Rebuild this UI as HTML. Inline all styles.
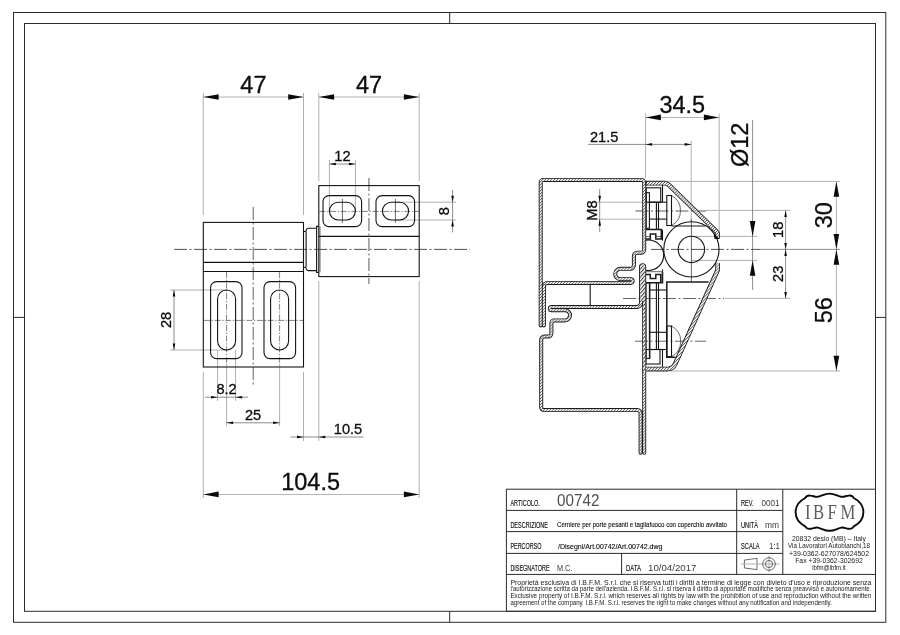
<!DOCTYPE html>
<html><head><meta charset="utf-8"><title>Art.00742</title>
<style>
html,body{margin:0;padding:0;background:#fff;}
body{width:900px;height:635px;overflow:hidden;font-family:"Liberation Sans",sans-serif;}
svg{display:block;will-change:transform;opacity:.999;}
text{font-family:"Liberation Sans",sans-serif;}
.o{stroke:#141414;stroke-width:1.1;fill:none;}
.o2{stroke:#1c1c1c;stroke-width:1.5;fill:none;}
.ot{stroke:#2a2a2a;stroke-width:.7;fill:none;}
.e{stroke:#b0b0b0;stroke-width:1;fill:none;}
.dl{stroke:#b4b4b4;stroke-width:1.05;fill:none;}
.d{stroke:#707070;stroke-width:.8;fill:none;}
.c{stroke:#333;stroke-width:.85;fill:none;stroke-dasharray:13 2.5 2 2.5;}
.cs{stroke:#2e2e2e;stroke-width:.6;fill:none;stroke-dasharray:6 1.6 1.4 1.6;}
.c2{stroke:#666;stroke-width:1;fill:none;stroke-dasharray:13 2.5 2 2.5;}
.cg{stroke:#909090;stroke-width:1.45;fill:none;stroke-dasharray:13 2.5 2 2.5;}
.f{stroke:#2b2b2b;stroke-width:1;fill:none;}
.a{fill:#0a0a0a;stroke:none;}
.t{fill:#0d0d0d;stroke:#0d0d0d;stroke-width:.3;}
.tb{fill:#0c0c0c;stroke:#0c0c0c;stroke-width:.12;}
.tl{fill:#3a3a3a;}
.tp{fill:#1a1a1a;}
.tl2{fill:#505050;}
.ser{font-family:"Liberation Serif",serif;fill:#5c5c5c;}
</style></head><body>
<svg width="900" height="635" viewBox="0 0 900 635">
<defs>
<pattern id="h" patternUnits="userSpaceOnUse" width="2.1" height="2.1" patternTransform="rotate(45)">
<rect width="2.1" height="2.1" fill="#fff"/><rect width="0.8" height="2.1" fill="#606060"/>
</pattern>
<pattern id="h3" patternUnits="userSpaceOnUse" width="2.1" height="2.1" patternTransform="rotate(45)">
<rect width="2.1" height="2.1" fill="#fff"/><rect width="0.8" height="2.1" fill="#5a5a5a"/>
</pattern>
<pattern id="h2" patternUnits="userSpaceOnUse" width="2.6" height="2.6" patternTransform="rotate(40)">
<rect width="2.6" height="2.6" fill="#fff"/><rect width="1.0" height="2.6" fill="#333"/>
</pattern>
</defs>
<rect x="0" y="0" width="900" height="635" fill="#fff"/>

<rect class="f" x="13.50" y="12.50" width="872.30" height="609.80"/>
<rect class="f" x="24.50" y="23.50" width="851.00" height="587.80"/>
<line class="f" x1="449.70" y1="12.50" x2="449.70" y2="23.50"/>
<line class="f" x1="449.70" y1="611.30" x2="449.70" y2="622.30"/>
<line class="f" x1="13.50" y1="317.40" x2="24.50" y2="317.40"/>
<line class="f" x1="875.50" y1="317.40" x2="885.80" y2="317.40"/>
<g id="leftview">
<line class="e" x1="203.30" y1="93.00" x2="203.30" y2="215.00"/>
<line class="e" x1="303.50" y1="93.00" x2="303.50" y2="215.00"/>
<line class="e" x1="318.80" y1="93.00" x2="318.80" y2="181.00"/>
<line class="e" x1="419.20" y1="93.00" x2="419.20" y2="181.00"/>
<line class="e" x1="203.30" y1="372.00" x2="203.30" y2="498.00"/>
<line class="e" x1="419.20" y1="281.00" x2="419.20" y2="498.00"/>
<line class="e" x1="303.50" y1="372.00" x2="303.50" y2="441.00"/>
<line class="e" x1="318.80" y1="281.00" x2="318.80" y2="441.00"/>
<line class="e" x1="217.60" y1="350.00" x2="217.60" y2="401.00"/>
<line class="e" x1="235.60" y1="350.00" x2="235.60" y2="401.00"/>
<line class="e" x1="226.60" y1="368.00" x2="226.60" y2="426.00"/>
<line class="e" x1="279.60" y1="368.00" x2="279.60" y2="426.00"/>
<line class="e" x1="170.00" y1="290.00" x2="227.00" y2="290.00"/>
<line class="e" x1="170.00" y1="350.00" x2="227.00" y2="350.00"/>
<line class="e" x1="329.40" y1="160.00" x2="329.40" y2="211.00"/>
<line class="e" x1="355.40" y1="160.00" x2="355.40" y2="211.00"/>
<line class="e" x1="396.00" y1="202.20" x2="456.00" y2="202.20"/>
<line class="e" x1="396.00" y1="220.00" x2="456.00" y2="220.00"/>
<line class="dl" x1="203.30" y1="97.00" x2="303.50" y2="97.00"/>
<polygon class="a" points="203.30,97.00 218.60,94.20 218.60,99.80"/>
<polygon class="a" points="303.50,97.00 288.20,94.20 288.20,99.80"/>
<line class="dl" x1="318.80" y1="97.00" x2="419.20" y2="97.00"/>
<polygon class="a" points="318.80,97.00 334.10,94.20 334.10,99.80"/>
<polygon class="a" points="419.20,97.00 403.90,94.20 403.90,99.80"/>
<text class="t" x="253.40" y="93.40" font-size="23.5" text-anchor="middle">47</text>
<text class="t" x="369.00" y="93.40" font-size="23.5" text-anchor="middle">47</text>
<line class="dl" x1="203.30" y1="494.40" x2="419.20" y2="494.40"/>
<polygon class="a" points="203.30,494.40 218.60,491.60 218.60,497.20"/>
<polygon class="a" points="419.20,494.40 403.90,491.60 403.90,497.20"/>
<text class="t" x="310.60" y="490.40" font-size="23.5" text-anchor="middle">104.5</text>
<line class="d" x1="329.40" y1="164.00" x2="355.40" y2="164.00"/>
<polygon class="a" points="329.40,164.00 335.90,162.70 335.90,165.30"/>
<polygon class="a" points="355.40,164.00 348.90,162.70 348.90,165.30"/>
<text class="t" x="342.40" y="160.80" font-size="14.6" text-anchor="middle">12</text>
<line class="d" x1="452.60" y1="190.00" x2="452.60" y2="232.40"/>
<polygon class="a" points="452.60,202.20 451.30,195.70 453.90,195.70"/>
<polygon class="a" points="452.60,220.00 451.30,226.50 453.90,226.50"/>
<text class="t" x="448.60" y="211.10" font-size="14.6" text-anchor="middle" transform="rotate(-90 448.60 211.10)">8</text>
<line class="d" x1="174.00" y1="290.00" x2="174.00" y2="350.00"/>
<polygon class="a" points="174.00,290.00 172.70,296.50 175.30,296.50"/>
<polygon class="a" points="174.00,350.00 172.70,343.50 175.30,343.50"/>
<text class="t" x="171.20" y="320.00" font-size="14.6" text-anchor="middle" transform="rotate(-90 171.20 320.00)">28</text>
<line class="d" x1="205.00" y1="397.20" x2="248.00" y2="397.20"/>
<polygon class="a" points="217.60,397.20 211.10,395.90 211.10,398.50"/>
<polygon class="a" points="235.60,397.20 242.10,395.90 242.10,398.50"/>
<text class="t" x="226.60" y="394.40" font-size="14.6" text-anchor="middle">8.2</text>
<line class="d" x1="226.60" y1="422.80" x2="279.60" y2="422.80"/>
<polygon class="a" points="226.60,422.80 233.10,421.50 233.10,424.10"/>
<polygon class="a" points="279.60,422.80 273.10,421.50 273.10,424.10"/>
<text class="t" x="253.10" y="419.80" font-size="14.6" text-anchor="middle">25</text>
<line class="d" x1="290.40" y1="437.00" x2="363.60" y2="437.00"/>
<polygon class="a" points="303.50,437.00 297.00,435.70 297.00,438.30"/>
<polygon class="a" points="318.80,437.00 325.30,435.70 325.30,438.30"/>
<text class="t" x="333.80" y="434.40" font-size="14.6" text-anchor="start">10.5</text>
<line class="c" x1="174.00" y1="249.40" x2="470.00" y2="249.40"/>
<line class="cg" x1="253.30" y1="207.00" x2="253.30" y2="385.00"/>
<line class="cg" x1="368.90" y1="178.00" x2="368.90" y2="284.00"/>
<line class="cs" x1="204.00" y1="320.40" x2="303.00" y2="320.40"/>
<line class="cs" x1="226.60" y1="272.00" x2="226.60" y2="368.00"/>
<line class="cs" x1="279.60" y1="272.00" x2="279.60" y2="368.00"/>
<line class="cs" x1="319.50" y1="211.40" x2="419.00" y2="211.40"/>
<line class="ot" x1="342.40" y1="199.00" x2="342.40" y2="223.00"/>
<line class="ot" x1="395.40" y1="199.00" x2="395.40" y2="223.00"/>
<rect class="o" x="203.30" y="222.40" width="100.20" height="144.60"/>
<line class="o" x1="203.30" y1="262.40" x2="303.50" y2="262.40"/>
<line class="o" x1="203.30" y1="271.50" x2="303.50" y2="271.50"/>
<rect class="o" x="318.80" y="185.60" width="100.40" height="91.00"/>
<line class="o" x1="318.80" y1="236.40" x2="419.20" y2="236.40"/>
<line class="ot" x1="320.00" y1="226.40" x2="320.00" y2="272.40"/>
<path class="o" d="M303.5,231.5 L305.2,231.5 Q306.2,231.3 306.4,229.6 Q306.8,228.2 308.2,228.2 L316.6,228.2 L316.6,226.4 L318.8,226.4"/>
<path class="o" d="M303.5,267.3 L305.2,267.3 Q306.2,267.5 306.4,269.2 Q306.8,270.6 308.2,270.6 L316.6,270.6 L316.6,272.4 L318.8,272.4"/>
<line class="o" x1="306.10" y1="231.50" x2="306.10" y2="267.30"/>
<line class="o" x1="316.60" y1="228.20" x2="316.60" y2="270.60"/>
<rect class="o" x="323.00" y="195.60" width="38.60" height="31.00" rx="6" ry="6"/>
<rect class="o" x="376.00" y="195.60" width="38.60" height="31.00" rx="6" ry="6"/>
<rect class="o" x="329.40" y="202.20" width="26.00" height="17.80" rx="8.9" ry="8.9"/>
<rect class="o" x="382.40" y="202.20" width="26.20" height="17.80" rx="8.9" ry="8.9"/>
<rect class="o" x="210.60" y="281.60" width="31.40" height="77.00" rx="6" ry="6"/>
<rect class="o" x="264.00" y="281.60" width="31.60" height="77.00" rx="6" ry="6"/>
<rect class="o" x="217.60" y="290.00" width="18.00" height="60.00" rx="9" ry="9"/>
<rect class="o" x="270.60" y="290.00" width="18.00" height="60.00" rx="9" ry="9"/>
</g>
<g id="rightview">
<line class="e" x1="645.60" y1="113.60" x2="645.60" y2="178.00"/>
<line class="e" x1="719.20" y1="113.60" x2="719.20" y2="237.00"/>
<line class="e" x1="691.20" y1="141.00" x2="691.20" y2="222.00"/>
<line class="e" x1="664.00" y1="181.40" x2="840.00" y2="181.40"/>
<line class="e" x1="706.00" y1="210.40" x2="790.00" y2="210.40"/>
<line class="e" x1="725.00" y1="298.40" x2="790.00" y2="298.40"/>
<line class="e" x1="670.00" y1="371.00" x2="840.00" y2="371.00"/>
<line class="e" x1="691.00" y1="236.40" x2="757.00" y2="236.40"/>
<line class="e" x1="691.00" y1="260.40" x2="757.00" y2="260.40"/>
<line class="e" x1="597.00" y1="202.20" x2="647.00" y2="202.20"/>
<line class="e" x1="597.00" y1="219.20" x2="647.00" y2="219.20"/>
<line class="dl" x1="645.60" y1="117.40" x2="719.20" y2="117.40"/>
<polygon class="a" points="645.60,117.40 660.90,114.60 660.90,120.20"/>
<polygon class="a" points="719.20,117.40 703.90,114.60 703.90,120.20"/>
<text class="t" x="682.30" y="113.20" font-size="23.5" text-anchor="middle">34.5</text>
<line class="d" x1="588.00" y1="144.40" x2="691.20" y2="144.40"/>
<polygon class="a" points="645.60,144.40 652.10,143.10 652.10,145.70"/>
<polygon class="a" points="691.20,144.40 684.70,143.10 684.70,145.70"/>
<text class="t" x="590.00" y="141.60" font-size="14.6" text-anchor="start">21.5</text>
<line class="d" x1="752.60" y1="120.00" x2="752.60" y2="290.00"/>
<polygon class="a" points="752.60,236.40 749.80,221.10 755.40,221.10"/>
<polygon class="a" points="752.60,260.40 749.80,275.70 755.40,275.70"/>
<text class="t" x="747.60" y="144.80" font-size="23.5" text-anchor="middle" transform="rotate(-90 747.60 144.80)">Ø12</text>
<line class="d" x1="785.60" y1="210.40" x2="785.60" y2="298.40"/>
<polygon class="a" points="785.60,210.40 784.30,216.90 786.90,216.90"/>
<polygon class="a" points="785.60,249.40 784.30,242.90 786.90,242.90"/>
<polygon class="a" points="785.60,249.40 784.30,255.90 786.90,255.90"/>
<polygon class="a" points="785.60,298.40 784.30,291.90 786.90,291.90"/>
<text class="t" x="783.00" y="229.80" font-size="14.6" text-anchor="middle" transform="rotate(-90 783.00 229.80)">18</text>
<text class="t" x="783.00" y="273.80" font-size="14.6" text-anchor="middle" transform="rotate(-90 783.00 273.80)">23</text>
<line class="dl" x1="836.40" y1="181.40" x2="836.40" y2="371.00"/>
<polygon class="a" points="836.40,181.40 833.60,196.70 839.20,196.70"/>
<polygon class="a" points="836.40,249.40 833.60,234.10 839.20,234.10"/>
<polygon class="a" points="836.40,249.40 833.60,264.70 839.20,264.70"/>
<polygon class="a" points="836.40,371.00 833.60,355.70 839.20,355.70"/>
<text class="t" x="832.00" y="215.20" font-size="23.5" text-anchor="middle" transform="rotate(-90 832.00 215.20)">30</text>
<text class="t" x="832.00" y="310.20" font-size="23.5" text-anchor="middle" transform="rotate(-90 832.00 310.20)">56</text>
<line class="d" x1="599.70" y1="189.00" x2="599.70" y2="232.00"/>
<polygon class="a" points="599.70,202.20 598.40,195.70 601.00,195.70"/>
<polygon class="a" points="599.70,219.20 598.40,225.70 601.00,225.70"/>
<text class="t" x="596.60" y="210.60" font-size="14.6" text-anchor="middle" transform="rotate(-90 596.60 210.60)">M8</text>
<line class="c" x1="651.00" y1="249.40" x2="760.00" y2="249.40"/>
<line class="d" x1="760.00" y1="249.40" x2="840.00" y2="249.40"/>
<line class="ot" x1="691.40" y1="219.00" x2="691.40" y2="281.50"/>
<line class="cg" x1="635.50" y1="210.90" x2="706.00" y2="210.90"/>
<line class="c2" x1="623.00" y1="298.50" x2="724.00" y2="298.50"/>
<line class="c2" x1="635.00" y1="341.20" x2="706.00" y2="341.20"/>
<circle class="o" cx="691.4" cy="249.4" r="27.6"/>
<circle class="o" cx="691.4" cy="249.4" r="13.2"/>
<rect class="o" x="646.20" y="187.80" width="14.50" height="14.40"/>
<line class="o" x1="662.50" y1="185.00" x2="662.50" y2="202.20"/>
<rect class="o" x="646.20" y="192.70" width="3.20" height="35.60"/>
<line class="o" x1="649.40" y1="202.20" x2="666.80" y2="202.20"/>
<line class="o" x1="649.40" y1="219.10" x2="666.80" y2="219.10"/>
<line class="o" x1="656.40" y1="202.20" x2="656.40" y2="229.60"/>
<line class="o" x1="658.50" y1="202.20" x2="658.50" y2="229.60"/>
<rect class="o" x="666.80" y="195.50" width="4.70" height="30.00"/>
<path class="ot" d="M671.5,195.5 A17,17 0 0 1 671.5,225.5"/>
<line class="o" x1="671.50" y1="226.00" x2="705.50" y2="226.00"/>
<path class="o2" d="M646,229.6 L661.3,229.6 L661.3,239 L655.8,239 L655.8,234 L650.3,234 L650.3,239 L646,239"/>
<path class="ot" d="M646,236.5 L650.3,236.5 M655.8,236.5 L661.3,236.5"/>
<line class="o" x1="662.50" y1="229.60" x2="662.50" y2="240.50"/>
<path class="o" d="M646,240.2 A15.2,15.2 0 1 1 646,270.2"/>
<path class="o2" d="M646,282.7 L662.5,282.7 L662.5,271.7 M646,274.4 L650.3,274.4 L650.3,278.4 L655.8,278.4 L655.8,274.4 L660.7,274.4 L660.7,282.7"/>
<line class="o" x1="662.50" y1="269.50" x2="662.50" y2="271.70"/>
<line class="ot" x1="646.00" y1="271.70" x2="662.50" y2="271.70"/>
<rect class="o" x="646.00" y="282.70" width="3.60" height="75.80"/>
<line class="o2" x1="649.60" y1="282.70" x2="649.60" y2="358.50"/>
<line class="o" x1="656.40" y1="282.70" x2="656.40" y2="349.50"/>
<line class="o" x1="658.50" y1="282.70" x2="658.50" y2="349.50"/>
<line class="o" x1="649.60" y1="290.00" x2="666.80" y2="290.00"/>
<line class="o" x1="649.60" y1="332.30" x2="666.80" y2="332.30"/>
<line class="o" x1="649.60" y1="349.50" x2="666.80" y2="349.50"/>
<path class="o2" d="M708.6,281.9 L666.8,281.9 L666.8,357.3 L675.5,357.3"/>
<rect class="o" x="666.80" y="326.00" width="4.70" height="30.70"/>
<path class="ot" d="M671.5,326 A17.4,17.4 0 0 1 671.5,356.7"/>
<rect class="o" x="646.00" y="349.50" width="14.00" height="14.50"/>
<line class="o" x1="662.50" y1="349.50" x2="662.50" y2="367.10"/>
<line class="o" x1="590.20" y1="284.50" x2="590.20" y2="305.50"/>
<path d="M540.70,325.40 L540.70,182.50 A2.60,2.60 0 0 1 543.30,179.90 L641.60,179.90 A2.60,2.60 0 0 1 644.20,182.50 L644.20,249.50 A3.20,3.20 0 0 1 641.00,252.70 L637.10,252.70 A3.20,3.20 0 0 0 633.90,255.90 L633.90,265.20 A3.60,3.60 0 0 1 630.30,268.80 L620.40,268.80 A5.20,5.20 0 0 0 615.20,274.00 L615.20,274.00 A5.20,5.20 0 0 0 620.40,279.20 L630.85,279.20 A1.85,1.85 0 0 1 632.70,281.05 L632.70,281.05 A1.85,1.85 0 0 1 630.85,282.90 L547.50,282.90 A3.60,3.60 0 0 0 543.90,286.50 L543.90,325.40" fill="none" stroke="#1c1c1c" stroke-width="4.0" stroke-linecap="round" stroke-linejoin="round"/>
<path d="M540.70,325.40 L540.70,182.50 A2.60,2.60 0 0 1 543.30,179.90 L641.60,179.90 A2.60,2.60 0 0 1 644.20,182.50 L644.20,249.50 A3.20,3.20 0 0 1 641.00,252.70 L637.10,252.70 A3.20,3.20 0 0 0 633.90,255.90 L633.90,265.20 A3.60,3.60 0 0 1 630.30,268.80 L620.40,268.80 A5.20,5.20 0 0 0 615.20,274.00 L615.20,274.00 A5.20,5.20 0 0 0 620.40,279.20 L630.85,279.20 A1.85,1.85 0 0 1 632.70,281.05 L632.70,281.05 A1.85,1.85 0 0 1 630.85,282.90 L547.50,282.90 A3.60,3.60 0 0 0 543.90,286.50 L543.90,325.40" fill="none" stroke="url(#h)" stroke-width="2.2" stroke-linecap="round" stroke-linejoin="round"/>
<path d="M644.20,452.80 L644.20,266.80 A1.60,1.60 0 0 0 642.60,265.20 L642.60,265.20 A1.60,1.60 0 0 0 641.00,266.80 L641.00,302.80 A4.20,4.20 0 0 1 636.80,307.00 L551.40,307.00 A1.60,1.60 0 0 0 549.80,308.60 L549.80,308.60 A1.60,1.60 0 0 0 551.40,310.20 L564.90,310.20 A5.10,5.10 0 0 1 570.00,315.30 L570.00,315.30 A5.10,5.10 0 0 1 564.90,320.40 L554.20,320.40 A2.80,2.80 0 0 0 551.40,323.20 L551.40,333.30 A3.20,3.20 0 0 1 548.20,336.50 L544.40,336.50 A3.20,3.20 0 0 0 541.20,339.70 L541.20,407.30 A2.80,2.80 0 0 0 544.00,410.10 L637.40,410.10 A3.20,3.20 0 0 1 640.60,413.30 L640.60,452.80" fill="none" stroke="#1c1c1c" stroke-width="4.0" stroke-linecap="round" stroke-linejoin="round"/>
<path d="M644.20,452.80 L644.20,266.80 A1.60,1.60 0 0 0 642.60,265.20 L642.60,265.20 A1.60,1.60 0 0 0 641.00,266.80 L641.00,302.80 A4.20,4.20 0 0 1 636.80,307.00 L551.40,307.00 A1.60,1.60 0 0 0 549.80,308.60 L549.80,308.60 A1.60,1.60 0 0 0 551.40,310.20 L564.90,310.20 A5.10,5.10 0 0 1 570.00,315.30 L570.00,315.30 A5.10,5.10 0 0 1 564.90,320.40 L554.20,320.40 A2.80,2.80 0 0 0 551.40,323.20 L551.40,333.30 A3.20,3.20 0 0 1 548.20,336.50 L544.40,336.50 A3.20,3.20 0 0 0 541.20,339.70 L541.20,407.30 A2.80,2.80 0 0 0 544.00,410.10 L637.40,410.10 A3.20,3.20 0 0 1 640.60,413.30 L640.60,452.80" fill="none" stroke="url(#h)" stroke-width="2.2" stroke-linecap="round" stroke-linejoin="round"/>
<path d="M642.6,266.5 L642.6,301" fill="none" stroke="url(#h2)" stroke-width="4.6"/>
<path d="M644.2,301 L644.2,372" fill="none" stroke="url(#h2)" stroke-width="2.0"/>
<path d="M646.00,183.20 L664.15,183.20 A7.00,7.00 0 0 1 669.04,185.19 L716.39,231.42 A4.00,4.00 0 0 1 717.60,234.29 L717.60,238.40" fill="none" stroke="#1c1c1c" stroke-width="4.7" stroke-linecap="butt" stroke-linejoin="round"/>
<path d="M646.00,183.20 L664.15,183.20 A7.00,7.00 0 0 1 669.04,185.19 L716.39,231.42 A4.00,4.00 0 0 1 717.60,234.29 L717.60,238.40" fill="none" stroke="url(#h3)" stroke-width="3.0" stroke-linecap="butt" stroke-linejoin="round"/>
<line class="o" x1="646.00" y1="181.00" x2="646.00" y2="185.40"/>
<path class="a" d="M713.6,233.6 L719.6,239 L714.6,239 Z"/>
<path d="M717.60,263.00 L717.60,269.55 A3.00,3.00 0 0 1 717.33,270.79 L675.29,363.81 A9.00,9.00 0 0 1 667.09,369.10 L646.00,369.10" fill="none" stroke="#1c1c1c" stroke-width="4.7" stroke-linecap="butt" stroke-linejoin="round"/>
<path d="M717.60,263.00 L717.60,269.55 A3.00,3.00 0 0 1 717.33,270.79 L675.29,363.81 A9.00,9.00 0 0 1 667.09,369.10 L646.00,369.10" fill="none" stroke="url(#h3)" stroke-width="3.0" stroke-linecap="butt" stroke-linejoin="round"/>
</g>
<g id="title">
<rect class="f" x="506.40" y="489.20" width="369.10" height="122.10"/>
<line class="f" x1="506.40" y1="510.40" x2="782.80" y2="510.40"/>
<line class="f" x1="506.40" y1="531.60" x2="782.80" y2="531.60"/>
<line class="f" x1="506.40" y1="553.40" x2="782.80" y2="553.40"/>
<line class="f" x1="506.40" y1="574.40" x2="875.50" y2="574.40"/>
<line class="f" x1="736.70" y1="489.20" x2="736.70" y2="574.40"/>
<line class="f" x1="782.80" y1="489.20" x2="782.80" y2="574.40"/>
<line class="f" x1="621.60" y1="553.40" x2="621.60" y2="574.40"/>
<text class="tb" x="510.40" y="506.00" font-size="8.2" text-anchor="start" textLength="29.4" lengthAdjust="spacingAndGlyphs">ARTICOLO.</text>
<text class="tl2" x="557.00" y="506.20" font-size="16.6" text-anchor="start" textLength="42.4" lengthAdjust="spacingAndGlyphs">00742</text>
<text class="tb" x="510.40" y="527.60" font-size="8.2" text-anchor="start" textLength="37.6" lengthAdjust="spacingAndGlyphs">DESCRIZIONE</text>
<text class="tb" x="557.00" y="527.40" font-size="7.9" text-anchor="start" textLength="170.0" lengthAdjust="spacingAndGlyphs">Cerniere per porte pesanti e tagliafuoco con coperchio avvitato</text>
<text class="tb" x="510.40" y="549.00" font-size="8.2" text-anchor="start" textLength="31.2" lengthAdjust="spacingAndGlyphs">PERCORSO</text>
<text class="tb" x="558.00" y="549.20" font-size="7.4" text-anchor="start" textLength="104.4" lengthAdjust="spacingAndGlyphs">/Disegni/Art.00742/Art.00742.dwg</text>
<text class="tb" x="510.40" y="570.60" font-size="8.2" text-anchor="start" textLength="39.2" lengthAdjust="spacingAndGlyphs">DISEGNATORE</text>
<text class="tl" x="557.00" y="570.60" font-size="9" text-anchor="start" textLength="15.4" lengthAdjust="spacingAndGlyphs">M.C.</text>
<text class="tb" x="626.00" y="570.60" font-size="8.2" text-anchor="start" textLength="15.0" lengthAdjust="spacingAndGlyphs">DATA</text>
<text class="tl" x="648.00" y="570.60" font-size="9.4" text-anchor="start" textLength="48.4" lengthAdjust="spacingAndGlyphs">10/04/2017</text>
<text class="tb" x="741.00" y="506.00" font-size="8.2" text-anchor="start" textLength="12.6" lengthAdjust="spacingAndGlyphs">REV.</text>
<text class="tl" x="761.60" y="506.00" font-size="9.2" text-anchor="start" textLength="18.0" lengthAdjust="spacingAndGlyphs">0001</text>
<text class="tb" x="741.00" y="527.60" font-size="8.2" text-anchor="start" textLength="17.0" lengthAdjust="spacingAndGlyphs">UNITÀ</text>
<text class="tl" x="765.00" y="527.60" font-size="9.2" text-anchor="start" textLength="14.0" lengthAdjust="spacingAndGlyphs">mm</text>
<text class="tb" x="741.00" y="549.00" font-size="8.2" text-anchor="start" textLength="18.6" lengthAdjust="spacingAndGlyphs">SCALA</text>
<text class="tl" x="769.00" y="549.00" font-size="9.2" text-anchor="start" textLength="11.0" lengthAdjust="spacingAndGlyphs">1:1</text>
<path class="ot" d="M744.4,560 L757,558.4 L757,569.6 L744.4,568 Z"/>
<line class="e" x1="741.00" y1="564.00" x2="779.50" y2="564.00"/>
<line class="e" x1="769.00" y1="555.60" x2="769.00" y2="572.40"/>
<circle class="ot" cx="769" cy="564" r="6.3"/>
<circle class="ot" cx="769" cy="564" r="3.6"/>
<text class="tp" x="510.40" y="584.60" font-size="6.7" text-anchor="start" textLength="361.0" lengthAdjust="spacingAndGlyphs">Proprietà esclusiva di I.B.F.M. S.r.l. che si riserva tutti i diritti a termine di legge con divieto d'uso e riproduzione senza</text>
<text class="tp" x="510.40" y="591.30" font-size="6.7" text-anchor="start" textLength="361.0" lengthAdjust="spacingAndGlyphs">l'autorizzazione scritta da parte dell'azienda. I.B.F.M. S.r.l. si riserva il diritto di apportare modifiche senza preavviso e autonomamente.</text>
<text class="tp" x="510.40" y="598.00" font-size="6.7" text-anchor="start" textLength="361.0" lengthAdjust="spacingAndGlyphs">Exclusive property of I.B.F.M. S.r.l. which reserves all rights by law with the prohibition of use and reproduction without the written</text>
<text class="tp" x="510.40" y="604.70" font-size="6.7" text-anchor="start" textLength="321.5" lengthAdjust="spacingAndGlyphs">agreement of the company. I.B.F.M. S.r.l. reserves the right to make changes without any notification and independently.</text>
<path d="M795.6,512.2 C795.6,505.6 800.4,500.6 805.2,498.0 C806.2,496.2 808.2,495.2 810.6,495.6 C813.4,496.0 815.4,497.2 817.6,496.8 C821.6,496.0 824.6,493.6 829.5,493.6 C834.4,493.6 837.4,496.0 841.4,496.8 C843.6,497.2 845.6,496.0 848.4,495.6 C850.8,495.2 852.8,496.2 853.8,498.0 C858.6,500.6 863.4,505.6 863.4,512.2 C863.4,518.8 858.6,523.8 853.8,526.4 C852.8,528.2 850.8,529.2 848.4,528.8 C845.6,528.4 843.6,527.2 841.4,527.6 C837.4,528.4 834.4,530.8 829.5,530.8 C824.6,530.8 821.6,528.4 817.6,527.6 C815.4,527.2 813.4,528.4 810.6,528.8 C808.2,529.2 806.2,528.2 805.2,526.4 C800.4,523.8 795.6,518.8 795.6,512.2 Z" fill="none" stroke="#0a0a0a" stroke-width="1.9" stroke-linejoin="round"/>
<text class="ser" font-size="21.4" text-anchor="middle" transform="translate(807.8,518.5) scale(0.78,1)">I</text>
<text class="ser" font-size="21.4" text-anchor="middle" transform="translate(818.6,518.5) scale(0.78,1)">B</text>
<text class="ser" font-size="21.4" text-anchor="middle" transform="translate(832.2,518.5) scale(0.78,1)">F</text>
<text class="ser" font-size="21.4" text-anchor="middle" transform="translate(848.0,518.5) scale(0.78,1)">M</text>
<text class="tp" x="829.00" y="540.50" font-size="6.9" text-anchor="middle" textLength="74.0" lengthAdjust="spacingAndGlyphs">20832 desio (MB) – Italy</text>
<text class="tp" x="829.00" y="548.00" font-size="6.9" text-anchor="middle" textLength="82.0" lengthAdjust="spacingAndGlyphs">Via Lavoratori Autobianchi,18</text>
<text class="tp" x="829.00" y="555.50" font-size="6.9" text-anchor="middle" textLength="80.0" lengthAdjust="spacingAndGlyphs">+39-0362-627078/624502</text>
<text class="tp" x="829.00" y="562.70" font-size="6.9" text-anchor="middle" textLength="67.6" lengthAdjust="spacingAndGlyphs">Fax +39-0362-302692</text>
<text class="tp" x="829.00" y="569.60" font-size="6.9" text-anchor="middle" textLength="33.6" lengthAdjust="spacingAndGlyphs">ibfm@ibfm.it</text>
</g>
</svg></body></html>
